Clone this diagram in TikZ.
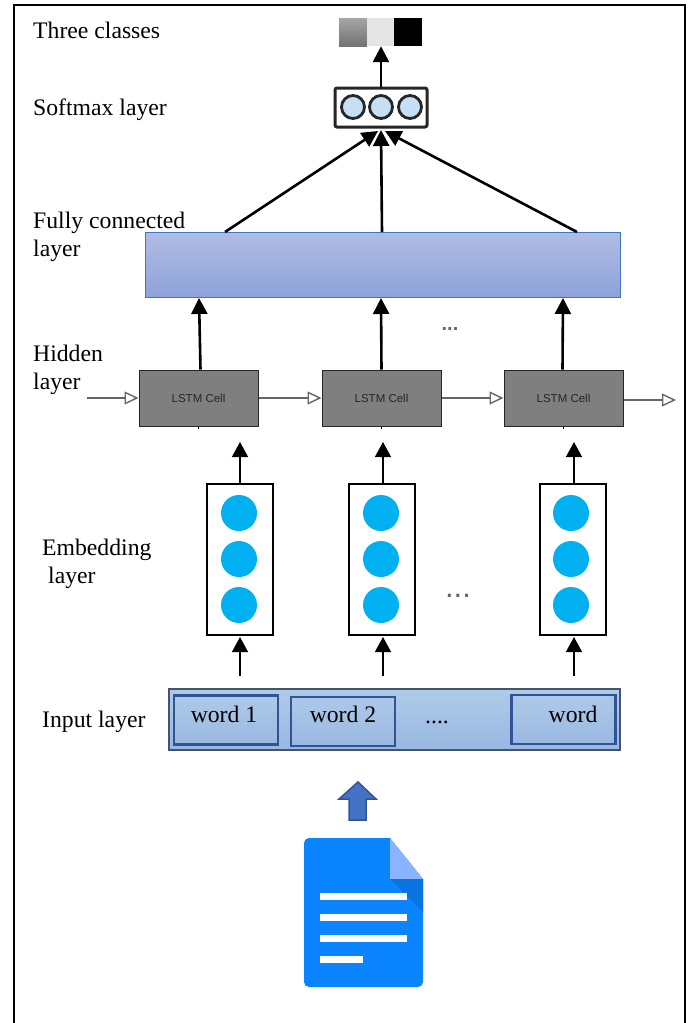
\documentclass[tikz,border=0pt]{standalone}
\usepackage{fontspec}
\setmainfont{Liberation Serif}
\setsansfont{Liberation Sans}
\usetikzlibrary{arrows.meta}
\definecolor{cellgray}{HTML}{7F7F7F}
\definecolor{dotblue}{HTML}{00B0F0}
\definecolor{softblue}{HTML}{C5E0F5}
\definecolor{docblue}{HTML}{0A84FF}
\definecolor{docfold}{HTML}{8AB4FF}
\definecolor{docshade}{HTML}{0874E0}
\definecolor{wordline}{HTML}{2F5597}
\definecolor{arrowblue}{HTML}{4472C4}
\definecolor{fulltop}{HTML}{B0BDE3}
\definecolor{fullbottom}{HTML}{8EA2DA}
\definecolor{inputtop}{HTML}{B0CBE9}
\definecolor{inputbottom}{HTML}{98B8E2}
\definecolor{inputline}{HTML}{44546A}
\tikzset{
    layerlabel/.style={anchor=west,align=left,inner sep=0pt,font=\fontsize{23.7}{27.5}\selectfont},
    wordtext/.style={inner sep=0pt,font=\fontsize{23.7}{27.5}\selectfont},
    lstmcell/.style={draw=black!85,fill=cellgray,line width=1pt,minimum width=119pt,minimum height=56pt,inner sep=0pt,text=black!85,font=\sffamily\fontsize{11.5}{13}\selectfont},
    embedbox/.style={draw=black,fill=white,line width=2.4pt,minimum width=66pt,minimum height=151pt,inner sep=0pt},
    embeddot/.style={circle,fill=dotblue,minimum size=36pt,inner sep=0pt},
    softdot/.style={circle,draw=black!85,fill=softblue,line width=2.8pt,minimum size=23pt,inner sep=0pt},
    wordbox/.style={draw=wordline,line width=2.4pt,minimum width=104pt,minimum height=49pt,inner sep=0pt},
    swatch/.style={minimum width=28pt,minimum height=28pt,inner sep=0pt},
    thickup/.style={-{Triangle[length=16pt,width=16pt]},line width=2.6pt},
    thinup/.style={-{Triangle[length=15pt,width=16pt]},line width=1.4pt},
    openright/.style={-{Triangle[open,fill=white,length=14pt,width=13pt]},line width=1.4pt,draw=black!60},
    smalldots/.style={inner sep=0pt,text=black!60,font=\sffamily\bfseries\fontsize{20}{20}\selectfont}
}
\begin{document}
\begin{tikzpicture}[x=1pt,y=-1pt]
    \useasboundingbox (0,0) rectangle (691,1023);
    \draw[line width=2pt] (14,1023)--(14,5)--(685,5)--(685,1023);
    % labels on the left
    \node[layerlabel] (lblclasses) at (33,30) {Three classes};
    \node[layerlabel] (lblsoftmax) at (33,110) {Softmax layer};
    \node[layerlabel] (lblfull) at (33,237) {Fully connected\\layer};
    \node[layerlabel] (lblhidden) at (33,370) {Hidden\\layer};
    \node[layerlabel] (lblembed) at (42,564) {Embedding\\\hspace{6pt}layer};
    \node[layerlabel] (lblinput) at (42,722) {Input layer};
    % three classes
    \node[swatch,top color=black!35,bottom color=black!55] (clsa) at (353,32) {};
    \node[swatch,fill=black!10] (clsb) at (381,32) {};
    \node[swatch,fill=black] (clsc) at (408,32) {};
    % softmax
    \node[draw=black!85,fill=white,line width=3pt,rounded corners=2pt,minimum width=92pt,minimum height=39pt] (softbox) at (381,107.5) {};
    \node[softdot] (softa) at (353,107) {};
    \node[softdot] (softb) at (381,107) {};
    \node[softdot] (softc) at (410,107) {};
    \draw[thickup] (softbox.north)--(clsb.south);
    % fully connected
    \node[draw=arrowblue,top color=fulltop,bottom color=fullbottom,minimum width=475pt,minimum height=65pt,inner sep=0pt,line width=1pt] (full) at (382.5,264.5) {};
    \coordinate (softina) at (378,131);
    \coordinate (softinb) at (381,130);
    \coordinate (softinc) at (385,131);
    \coordinate (fulla) at (225,232);
    \coordinate (fullb) at (382,232);
    \coordinate (fullc) at (577,232);
    \draw[thickup] (fulla)--(softina);
    \draw[thickup] (fullb)--(softinb);
    \draw[thickup] (fullc)--(softinc);
    % lstm cells
    \node[lstmcell] (lstma) at (198.5,398) {LSTM Cell};
    \node[lstmcell] (lstmb) at (381.5,398) {LSTM Cell};
    \node[lstmcell] (lstmc) at (563.5,398) {LSTM Cell};
    \foreach \cellname in {lstma,lstmb,lstmc}
        \draw[line width=.8pt] (\cellname.south)--++(0,2);
    \coordinate (hidin) at (87,398);
    \coordinate (hidout) at (676,400);
    \draw[openright] (hidin)--(lstma.west);
    \draw[openright] (lstma.east)--(lstmb.west);
    \draw[openright] (lstmb.east)--(lstmc.west);
    \draw[openright] (lstmc.east |- hidout)--(hidout);
    \coordinate (fullina) at (199,298);
    \coordinate (fullinb) at (381,298);
    \coordinate (fullinc) at (563,298);
    \draw[thickup] ([xshift=2pt]lstma.north)--(fullina);
    \draw[thickup] (lstmb.north)--(fullinb);
    \draw[thickup] ([xshift=-1pt]lstmc.north)--(fullinc);
    \node[smalldots] (hiddots) at (450,329) {...};
    % embedding
    \node[embedbox] (emba) at (240,559.5) {};
    \node[embedbox] (embb) at (382,559.5) {};
    \node[embedbox] (embc) at (573,559.5) {};
    \foreach \boxname/\xx in {a/239,b/381,c/571}{
        \node[embeddot] (dot\boxname1) at (\xx,513) {};
        \node[embeddot] (dot\boxname2) at (\xx,559) {};
        \node[embeddot] (dot\boxname3) at (\xx,605) {};
    }
    \coordinate (cellina) at (240,442);
    \coordinate (cellinb) at (383,442);
    \coordinate (cellinc) at (574,442);
    \draw[thinup] (emba.north -| cellina)--(cellina);
    \draw[thinup] (embb.north -| cellinb)--(cellinb);
    \draw[thinup] (embc.north -| cellinc)--(cellinc);
    \node[smalldots,font=\sffamily\fontsize{31}{31}\selectfont] (embdots) at (458,596) {...};
    % input layer
    \node[draw=inputline,line width=2pt,minimum width=451pt,minimum height=61pt,inner sep=0pt,top color=inputtop,bottom color=inputbottom] (input) at (394.5,719.5) {};
    \node[wordbox] (worda) at (226,720) {};
    \node[wordbox] (wordb) at (343,721.5) {};
    \node[wordbox] (wordc) at (563.5,719.5) {};
    \node[wordtext] (wordatext) at (224,714) {word 1};
    \node[wordtext] (wordbtext) at (343,714) {word 2};
    \node[wordtext] (wordctext) at (573,714) {word};
    \node[wordtext] (worddots) at (437,722) {....};
    \coordinate (embina) at (240,637);
    \coordinate (embinb) at (383,637);
    \coordinate (embinc) at (574,637);
    \coordinate (inputa) at (240,676);
    \coordinate (inputb) at (383,676);
    \coordinate (inputc) at (574,676);
    \draw[thinup] (inputa)--(embina);
    \draw[thinup] (inputb)--(embinb);
    \draw[thinup] (inputc)--(embinc);
    % document
    \draw[draw=wordline,line width=1.5pt,fill=arrowblue] (358,782)--(376,799)--(366,799)--(366,820)--(349,820)--(349,799)--(339,799)--cycle;
    \fill[docblue,rounded corners=5pt] (350,838)--(304,838)--(304,987)--(423,987)--(423,900) [sharp corners]--(423,879)--(390,838)--cycle;
    \fill[docfold] (390,838)--(423,879)--(390,879)--cycle;
    \fill[docshade] (390,879)--(423,879)--(423,912)--cycle;
    \fill[white] (320,893) rectangle (407,900);
    \fill[white] (320,914) rectangle (407,921);
    \fill[white] (320,935) rectangle (407,942);
    \fill[white] (320,956) rectangle (363,963);
\end{tikzpicture}
\end{document}
